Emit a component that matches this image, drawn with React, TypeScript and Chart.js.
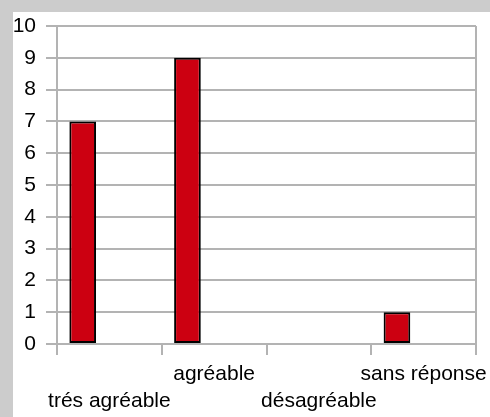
import React, { useEffect, useRef } from 'react';
import { Chart, registerables } from 'chart.js';

Chart.register(...registerables);

// ---- data ----
const categories: string[] = ['trés agréable', 'agréable', 'désagréable', 'sans réponse'];
const values: number[] = [7, 9, 0, 1];
// two empty placeholder series (the original chart reserves room for them)
const emptySeriesA: (number | null)[] = [null, null, null, null];
const emptySeriesB: (number | null)[] = [null, null, null, null];
const yMin = 0;
const yMax = 10;
const yStep = 1;

const lineColor = '#b3b3b3';
const barColor = '#cc0011';
const family = "'Liberation Sans', Arial, sans-serif";
const xFont = { family, size: 21, lineHeight: 27 / 21 };
const yFont = { family, size: 21, lineHeight: 1 };

export default function App() {
  const ref = useRef<HTMLCanvasElement | null>(null);

  useEffect(() => {
    if (!ref.current) return;
    const chart = new Chart(ref.current, {
      type: 'bar',
      data: {
        labels: categories,
        datasets: [
          {
            data: values,
            backgroundColor: barColor,
            borderColor: '#000000',
            borderWidth: 2,
            borderSkipped: false,
          },
          { data: emptySeriesA, backgroundColor: barColor },
          { data: emptySeriesB, backgroundColor: barColor },
        ],
      },
      options: {
        responsive: false,
        animation: false,
        layout: { padding: { top: 0, right: 14, left: 0, bottom: 0 } },
        plugins: { legend: { display: false }, tooltip: { enabled: false } },
        datasets: { bar: { categoryPercentage: 0.764, barPercentage: 1 } },
        scales: {
          x: {
            offset: true,
            grid: {
              offset: true,
              drawOnChartArea: true,
              color: (ctx: any) => (ctx.type === 'tick' ? 'rgba(0,0,0,0)' : lineColor),
              tickColor: lineColor,
              tickLength: 11,
              lineWidth: 2,
            },
            border: { color: lineColor, width: 2 },
            ticks: {
              autoSkip: false,
              maxRotation: 0,
              minRotation: 0,
              padding: 6,
              color: '#000000',
              font: xFont,
              callback: (_v: any, i: number) => (i % 2 === 0 ? ['', categories[i]] : [categories[i]]),
            },
            afterFit: (s: any) => {
              s.height = 73;
              s.paddingLeft = 0;
              s.paddingRight = 0;
            },
          },
          y: {
            min: yMin,
            max: yMax,
            grid: { color: lineColor, lineWidth: 2, tickLength: 11 },
            border: { color: lineColor, width: 2 },
            ticks: { stepSize: yStep, autoSkip: false, padding: 10, color: '#000000', font: yFont },
            afterFit: (s: any) => {
              s.width = 44;
              s.paddingTop = 14;
              s.paddingBottom = 0;
            },
          },
        },
      },
    });
    return () => chart.destroy();
  }, []);

  return (
    <div
      style={{
        position: 'fixed',
        left: 0,
        top: 0,
        width: 490,
        height: 417,
        background: '#cccccc',
        overflow: 'hidden',
      }}
    >
      <div style={{ position: 'absolute', left: 13, top: 12, width: 477, height: 405, background: '#ffffff' }}>
        <canvas ref={ref} width={477} height={405} style={{ display: 'block', width: 477, height: 405 }} />
      </div>
    </div>
  );
}
